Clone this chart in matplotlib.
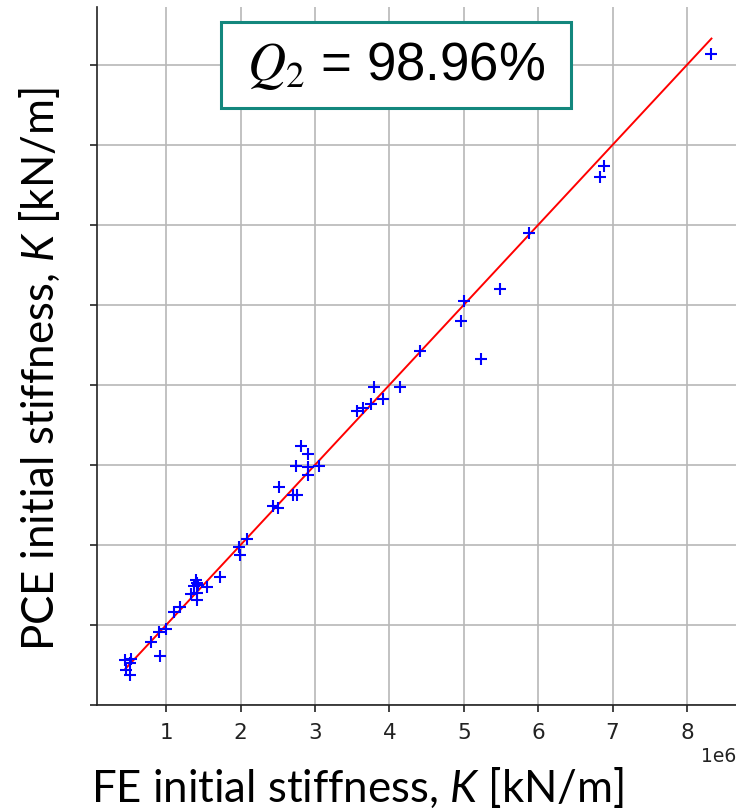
"""FE vs PCE initial stiffness scatter with 1:1 line and Q2 box."""

import matplotlib
matplotlib.use("Agg")
import matplotlib.pyplot as plt
from matplotlib.patches import Rectangle

# values in units of 1e6 kN/m
fe_stiffness = [
    8.33, 6.89, 6.83, 5.88, 5.49, 5.00, 4.96, 5.23, 4.41, 3.79,
    4.14, 3.91, 3.76, 3.64, 3.57, 2.81, 2.91, 2.74, 3.055, 2.91,
    2.91, 2.52, 2.70, 2.76, 2.43, 2.50, 2.08, 1.98, 1.99, 1.73,
    1.555, 1.40, 1.38, 1.43, 1.33, 1.41, 1.41, 1.42, 1.19, 1.11,
    0.995, 0.905, 0.79, 0.915, 0.45, 0.53, 0.52, 0.46, 0.51,
]
pce_stiffness = [
    8.14, 6.74, 6.60, 5.90, 5.20, 5.05, 4.80, 4.32, 4.43, 3.97,
    3.97, 3.83, 3.76, 3.71, 3.67, 3.24, 3.14, 2.99, 2.99, 2.98,
    2.875, 2.72, 2.62, 2.625, 2.49, 2.46, 2.08, 1.98, 1.875, 1.60,
    1.48, 1.56, 1.49, 1.50, 1.385, 1.40, 1.31, 1.52, 1.22, 1.16,
    0.95, 0.915, 0.79, 0.61, 0.56, 0.57, 0.52, 0.44, 0.375,
]
x_ticks = [1, 2, 3, 4, 5, 6, 7, 8]
y_ticks = [0, 1, 2, 3, 4, 5, 6, 7, 8]
q2_label = r"$Q_2$ = 98.96%"

plt.rcParams["mathtext.fontset"] = "custom"
plt.rcParams["mathtext.rm"] = "Lato"
plt.rcParams["mathtext.it"] = "Lato:italic"

scale = 1e6
fe = [v * scale for v in fe_stiffness]
pce = [v * scale for v in pce_stiffness]

fig = plt.figure(figsize=(7.36, 8.09), dpi=100)
ax = fig.add_axes([0.1318, 0.1286, 0.8682, 0.8628])

ax.plot(fe, pce, "+", color="#0000ff", markersize=9, markeredgewidth=1.5, zorder=3)
lo, hi = min(fe), max(fe)
ax.plot([lo, hi], [lo, hi], color="red", linewidth=1.4, zorder=2)

ax.set_xlim(0.07 * scale, 8.66 * scale)
ax.set_ylim(0, 8.725 * scale)
ax.set_xticks([t * scale for t in x_ticks])
ax.set_yticks([t * scale for t in y_ticks])
ax.grid(True, color="#b8b8b8", linewidth=1.2)
ax.set_axisbelow(True)

for side in ("top", "right"):
    ax.spines[side].set_visible(False)
for side in ("left", "bottom"):
    ax.spines[side].set_linewidth(1.2)
    ax.spines[side].set_color("#222222")

ax.tick_params(axis="both", length=5, width=1.2, color="#222222")
ax.tick_params(axis="x", labelsize=15.5, labelcolor="#222222", pad=8)
ax.tick_params(axis="y", labelleft=False)
ax.xaxis.get_offset_text().set_fontsize(13.5)
ax.xaxis.get_offset_text().set_color("#222222")

fig.text(0.124, 0.0087, "FE initial stiffness, $K$ [kN/m]", family="Lato",
         fontsize=31.5, ha="left", va="baseline")
fig.text(0.054, 0.543, "PCE initial stiffness, $K$ [kN/m]", family="Lato",
         fontsize=31.5, rotation=90, ha="center", va="center")

fig.add_artist(Rectangle((0.3003, 0.8665), 0.4755, 0.1063, transform=fig.transFigure,
                         facecolor="white", edgecolor="#13877d", linewidth=2.2, zorder=5))
fig.text(0.538, 0.918, q2_label, family="Liberation Sans", math_fontfamily="stix",
         fontsize=38, ha="center", va="center", zorder=6)

fig.savefig("out.png", dpi=100)
